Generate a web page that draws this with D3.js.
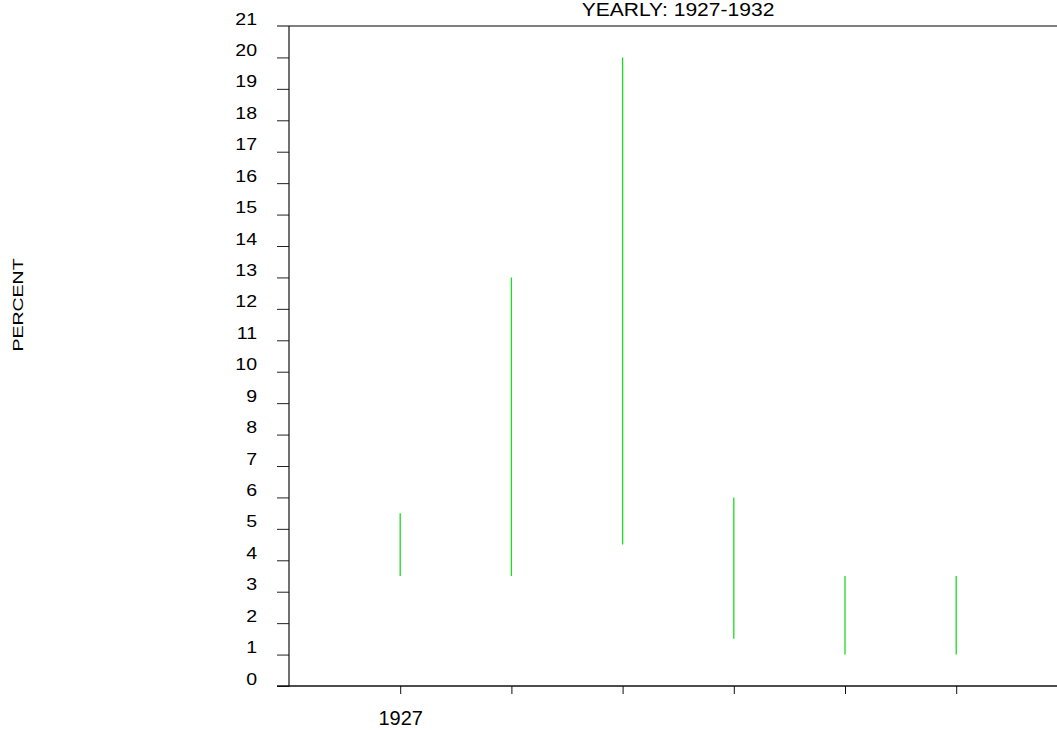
<!DOCTYPE html>
<html>
<head>
<meta charset="utf-8">
<script src="https://cdn.jsdelivr.net/npm/d3@7"></script>
<style>
  html, body { margin: 0; padding: 0; background: #fff; }
  svg { display: block; font-family: "Liberation Sans", Arial, sans-serif; }
</style>
</head>
<body>
<svg id="chart" width="1057" height="730"></svg>
<script>
const years = [1927, 1928, 1929, 1930, 1931, 1932];
const highs = [5.5, 13, 20, 6, 3.5, 3.5];
const lows  = [3.5, 3.5, 4.5, 1.5, 1, 1];
const yTicks = d3.range(0, 22);
const xTickLabels = ["1927"];
const title = "YEARLY: 1927-1932";
const yLabel = "PERCENT";

(function () {
const svg = d3.select("#chart");
const W = 1057;
const mLeft = 289, mTop = 26, mBottom = 686;

const x = d3.scaleLinear().domain([1926, 1933]).range([mLeft, mLeft + 7 * 111.2]);
const y = d3.scaleLinear().domain([0, 21]).range([mBottom, mTop]);

// top border line (gray)
svg.append("line")
  .attr("x1", 277).attr("x2", W)
  .attr("y1", y(21)).attr("y2", y(21))
  .attr("stroke", "#808080").attr("stroke-width", 2);

// y axis
const yAxis = d3.axisLeft(y).tickValues(yTicks.slice(0, 21)).tickSize(12).tickFormat("");
const gy = svg.append("g").attr("transform", `translate(${mLeft},0)`).call(yAxis);
gy.select(".domain").remove();
gy.selectAll(".tick line").attr("stroke", "#222");
svg.append("line")
  .attr("x1", mLeft).attr("x2", mLeft)
  .attr("y1", y(21)).attr("y2", y(0))
  .attr("stroke", "#111").attr("stroke-width", 1.2);

// y labels (slightly above ticks, wide face)
svg.append("g").selectAll("text")
  .data(yTicks)
  .join("text")
  .attr("transform", d => `translate(257,${y(d) - 1.5}) scale(1.15,1)`)
  .attr("text-anchor", "end")
  .attr("font-size", 17)
  .attr("fill", "#000")
  .text(d => d);

// x axis
const xAxis = d3.axisBottom(x).tickValues(years).tickSize(8).tickFormat("");
const gx = svg.append("g").attr("transform", `translate(0,${mBottom})`).call(xAxis);
gx.select(".domain").remove();
gx.selectAll(".tick line").attr("stroke", "#111");
svg.append("line")
  .attr("x1", 277).attr("x2", W)
  .attr("y1", mBottom).attr("y2", mBottom)
  .attr("stroke", "#111").attr("stroke-width", 1.5);

svg.append("g").selectAll("text")
  .data(xTickLabels)
  .join("text")
  .attr("x", d => x(+d) + 0.5)
  .attr("y", 725)
  .attr("text-anchor", "middle")
  .attr("font-size", 20)
  .text(d => d);

// high-low bars
svg.append("g").selectAll("line")
  .data(years)
  .join("line")
  .attr("x1", (d) => x(d)).attr("x2", (d) => x(d))
  .attr("y1", (d, i) => y(highs[i]))
  .attr("y2", (d, i) => y(lows[i]))
  .attr("stroke", "#1adc1a")
  .attr("stroke-width", 1.3);

// title
svg.append("text")
  .attr("transform", "translate(678,16) scale(1.17,1)")
  .attr("text-anchor", "middle")
  .attr("font-size", 18)
  .text(title);

// y label
svg.append("text")
  .attr("transform", "translate(23,305) rotate(-90) scale(1.3,1)")
  .attr("text-anchor", "middle")
  .attr("font-size", 15)
  .text(yLabel);
})();
</script>
</body>
</html>
